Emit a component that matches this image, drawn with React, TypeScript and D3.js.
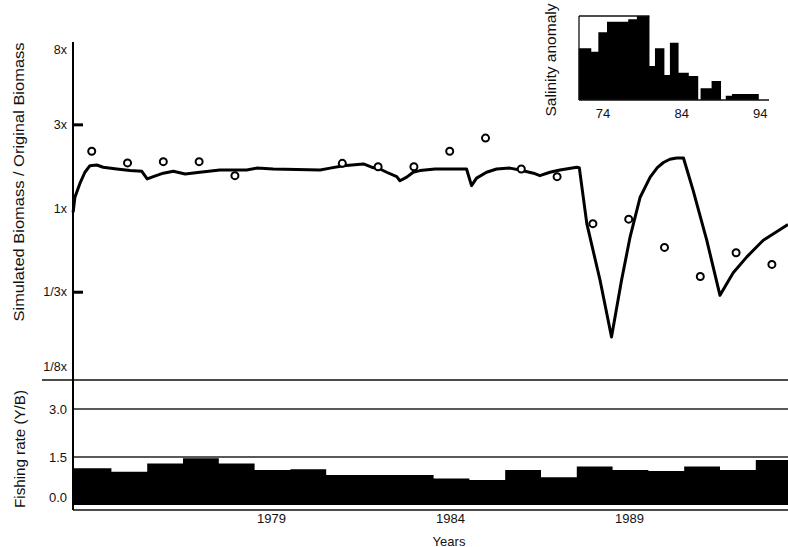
import React from 'react';
import * as d3 from 'd3';

const W = 788;
const H = 547;

// Years of the simulation (bottom panel categories)
const years = [1974, 1975, 1976, 1977, 1978, 1979, 1980, 1981, 1982, 1983, 1984, 1985, 1986, 1987, 1988, 1989, 1990, 1991, 1992, 1993];
const fishingRate = [1.15, 1.04, 1.30, 1.46, 1.30, 1.09, 1.12, 0.94, 0.94, 0.94, 0.83, 0.78, 1.09, 0.87, 1.20, 1.09, 1.06, 1.20, 1.09, 1.41];

// Observed relative biomass (circles)
const obsYears = [1974, 1975, 1976, 1977, 1978, 1981, 1982, 1983, 1984, 1985, 1986, 1987, 1988, 1989, 1990, 1991, 1992, 1993];
const obsBiomass = [2.12, 1.82, 1.85, 1.85, 1.54, 1.81, 1.73, 1.73, 2.12, 2.52, 1.68, 1.52, 0.82, 0.87, 0.60, 0.41, 0.56, 0.48];

// Simulated relative biomass (line)
const simTime = [1973.93, 1973.98, 1974.12, 1974.26, 1974.40, 1974.59, 1974.77, 1975.15, 1975.52, 1975.85, 1976.00, 1976.17, 1976.45, 1976.73, 1977.06, 1977.47, 1978.03, 1978.78, 1979.06, 1979.52, 1980.83, 1981.11, 1981.48, 1982.04, 1982.27, 1982.50, 1982.69, 1982.97, 1983.06, 1983.25, 1983.43, 1983.62, 1984.04, 1984.92, 1985.06, 1985.20, 1985.48, 1985.76, 1986.13, 1986.41, 1986.79, 1986.97, 1987.25, 1987.53, 1988.00, 1988.07, 1988.28, 1988.65, 1988.97, 1989.25, 1989.49, 1989.77, 1990.05, 1990.25, 1990.42, 1990.60, 1990.79, 1990.98, 1991.25, 1991.63, 1992.00, 1992.18, 1992.37, 1992.75, 1993.21, 1993.90];
const simBiomass = [0.95, 1.16, 1.39, 1.61, 1.755, 1.77, 1.72, 1.68, 1.645, 1.63, 1.475, 1.52, 1.59, 1.63, 1.575, 1.61, 1.66, 1.66, 1.70, 1.68, 1.66, 1.70, 1.755, 1.795, 1.72, 1.68, 1.61, 1.52, 1.44, 1.51, 1.61, 1.645, 1.68, 1.68, 1.35, 1.49, 1.61, 1.68, 1.70, 1.66, 1.59, 1.54, 1.61, 1.66, 1.72, 1.71, 0.82, 0.39, 0.185, 0.39, 0.69, 1.16, 1.51, 1.71, 1.83, 1.91, 1.94, 1.94, 1.27, 0.66, 0.32, 0.37, 0.43, 0.53, 0.66, 0.81];

const biomassTicks = [8, 3, 1, 1 / 3, 1 / 8];
const biomassTickLabels = ['8x', '3x', '1x', '1/3x', '1/8x'];
const biomassTickMarks = [3, 1 / 3];
const fishingTicks = [3.0, 1.5, 0.0];
const fishingTickLabels = ['3.0', '1.5', '0.0'];
const yearTickLabels = [1979, 1984, 1989];

// Inset: salinity anomaly (step series)
const salinityStart = [70.9, 72.5, 73.4, 74.5, 77.2, 78.3, 79.9, 80.6, 81.8, 82.5, 83.6, 84.9, 86.1, 86.4, 87.8, 89.0, 89.6, 90.4];
const salinityEnd = [72.5, 73.4, 74.5, 77.2, 78.3, 79.9, 80.6, 81.8, 82.5, 83.6, 84.9, 86.1, 86.4, 87.8, 89.0, 89.6, 90.4, 93.8];
const salinityValue = [0.615, 0.575, 0.806, 0.933, 0.960, 1.0, 0.405, 0.615, 0.298, 0.683, 0.325, 0.286, 0, 0.139, 0.226, 0, 0.052, 0.071];
const salinityTicks = [74, 84, 94];

const FONT = '"Liberation Sans", Arial, sans-serif';
const INK = '#111';

export default function App() {
  const x = d3.scaleLinear().domain([1973.927, 1993.9]).range([73, 788]);
  const yB = d3.scaleLog().domain([0.1053, 8.9]).range([380, 42]);
  const yF = d3.scaleLinear().domain([0, 3]).range([505, 409]);

  const xs = d3.scaleLinear().domain([70.94, 95.1]).range([579, 769]);
  const ys = d3.scaleLinear().domain([0, 1]).range([100, 16]);

  const line = d3.line<number>()
    .x((_, i) => x(simTime[i]))
    .y((d) => yB(d))
    .curve(d3.curveLinear);

  const [dMin, dMax] = x.domain();
  const maxIdx = salinityValue.indexOf(d3.max(salinityValue) as number);

  // Fishing rate as a step area (avoids seams between bars)
  const fishPts: [number, number][] = [];
  years.forEach((yr, i) => {
    const t0 = i === 0 ? dMin : Math.max(yr, dMin);
    const t1 = Math.min(yr + 1, dMax);
    fishPts.push([t0, fishingRate[i]]);
    fishPts.push([t1, fishingRate[i]]);
  });
  const fishArea = d3.area<[number, number]>()
    .x((d) => x(d[0]))
    .y0(yF(0))
    .y1((d) => yF(d[1]));

  const salPts: [number, number][] = [];
  salinityStart.forEach((s, i) => {
    salPts.push([s, salinityValue[i]]);
    salPts.push([salinityEnd[i], salinityValue[i]]);
  });
  const salArea = d3.area<[number, number]>()
    .x((d) => xs(d[0]))
    .y0(ys(0))
    .y1((d) => ys(d[1]));

  return (
    <svg width={W} height={H} style={{ position: 'absolute', left: 0, top: 0, background: '#fff' }} fontFamily={FONT}>
      <rect x={0} y={0} width={W} height={H} fill="#fff" />

      {/* Fishing rate bars */}
      <path d={fishArea(fishPts) || ''} fill="#000" />

      {/* Fishing gridlines */}
      {[3.0, 1.5].map((v) => (
        <line key={v} x1={x(dMin)} x2={x(dMax)} y1={yF(v)} y2={yF(v)} stroke="#222" strokeWidth={1.3} />
      ))}
      {/* panel separator */}
      <line x1={42} x2={W} y1={yB(0.1053)} y2={yB(0.1053)} stroke="#111" strokeWidth={1.5} />
      {/* bottom axis */}
      <line x1={x(dMin)} x2={x(dMax)} y1={510} y2={510} stroke="#111" strokeWidth={1.5} />
      {/* left axis */}
      <line x1={73} x2={73} y1={42} y2={510} stroke="#000" strokeWidth={2} />

      {/* biomass tick marks */}
      {biomassTickMarks.map((v) => (
        <line key={v} x1={73} x2={83} y1={yB(v)} y2={yB(v)} stroke="#000" strokeWidth={3} />
      ))}

      {/* biomass tick labels */}
      {biomassTicks.map((v, i) => (
        <text key={i} x={67} y={yB(v)} textAnchor="end" dominantBaseline="central" fontSize={12.5} fill={INK}>
          {biomassTickLabels[i]}
        </text>
      ))}

      {/* fishing tick labels */}
      {fishingTicks.map((v, i) => (
        <text key={i} x={67} y={v === 0 ? yF(v) - 8 : yF(v)} textAnchor="end" dominantBaseline="central" fontSize={13} fill={INK}>
          {fishingTickLabels[i]}
        </text>
      ))}

      {/* year labels */}
      {yearTickLabels.map((yr) => (
        <text key={yr} x={x(yr + 0.5) - 1} y={518} textAnchor="middle" dominantBaseline="central" fontSize={13} fill={INK}>
          {yr}
        </text>
      ))}
      <text x={449} y={541} textAnchor="middle" dominantBaseline="central" fontSize={13} fill={INK}>Years</text>

      {/* axis titles */}
      <text transform="translate(19,182) rotate(-90)" textAnchor="middle" dominantBaseline="central" fontSize={14} fill={INK} textLength={279} lengthAdjust="spacingAndGlyphs">
        Simulated Biomass / Original Biomass
      </text>
      <text transform="translate(20,449) rotate(-90)" textAnchor="middle" dominantBaseline="central" fontSize={14} fill={INK} textLength={118} lengthAdjust="spacingAndGlyphs">
        Fishing rate (Y/B)
      </text>

      {/* Simulated biomass line */}
      <path d={line(simBiomass) || ''} fill="none" stroke="#000" strokeWidth={3} strokeLinejoin="round" />

      {/* Observed circles */}
      {obsYears.map((yr, i) => (
        <circle key={yr} cx={x(yr + 0.45)} cy={yB(obsBiomass[i])} r={3.5} fill="#fff" stroke="#000" strokeWidth={2} />
      ))}

      {/* Inset: salinity anomaly */}
      <g>
        <path d={salArea(salPts) || ''} fill="#000" />
        <line x1={xs(70.94)} x2={xs(70.94)} y1={ys(1)} y2={ys(0)} stroke="#111" strokeWidth={1.3} />
        <line x1={xs(70.94)} x2={xs(salinityEnd[maxIdx])} y1={ys(1)} y2={ys(1)} stroke="#111" strokeWidth={1.3} />
        <line x1={xs(70.94)} x2={xs(95.1)} y1={ys(0)} y2={ys(0)} stroke="#111" strokeWidth={1.3} />
        {salinityTicks.map((t) => (
          <text key={t} x={xs(t)} y={113} textAnchor="middle" dominantBaseline="central" fontSize={13} fill={INK}>{t}</text>
        ))}
        <text transform="translate(551,60) rotate(-90)" textAnchor="middle" dominantBaseline="central" fontSize={14} fill={INK} textLength={113} lengthAdjust="spacingAndGlyphs">
          Salinity anomaly
        </text>
      </g>
    </svg>
  );
}
